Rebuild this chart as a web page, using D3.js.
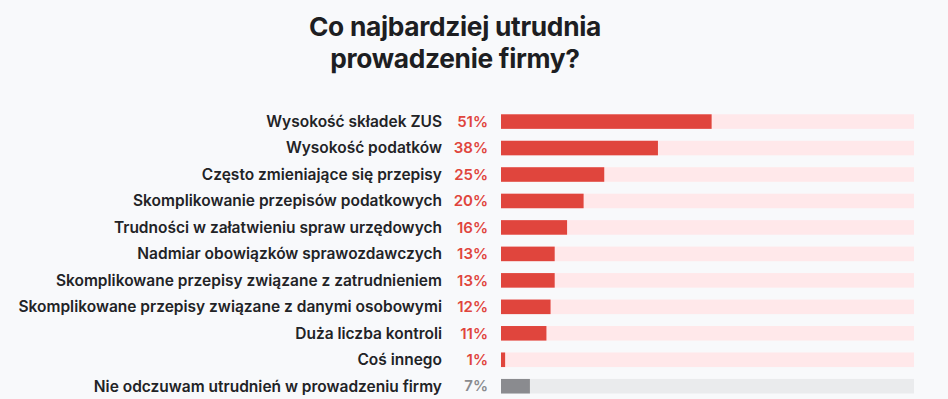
<!DOCTYPE html>
<html>
<head>
<meta charset="utf-8">
<script src="https://d3js.org/d3.v7.min.js"></script>
<style>
  html, body { margin: 0; padding: 0; background: #f8f9fb; }
  svg { display: block; font-family: Inter, "Noto Sans", sans-serif; }
</style>
</head>
<body>
<script>
// chart data
const categories = [
  "Wysokość składek ZUS",
  "Wysokość podatków",
  "Często zmieniające się przepisy",
  "Skomplikowanie przepisów podatkowych",
  "Trudności w załatwieniu spraw urzędowych",
  "Nadmiar obowiązków sprawozdawczych",
  "Skomplikowane przepisy związane z zatrudnieniem",
  "Skomplikowane przepisy związane z danymi osobowymi",
  "Duża liczba kontroli",
  "Coś innego",
  "Nie odczuwam utrudnień w prowadzeniu firmy"
]
const values = [51, 38, 25, 20, 16, 13, 13, 12, 11, 1, 7]
const titleLines = ["Co najbardziej utrudnia", "prowadzenie firmy?"]

const width = 948, height = 399

const svg = d3.select("body").append("svg")
  .attr("width", width)
  .attr("height", height)

svg.append("rect")
  .attr("width", width).attr("height", height)
  .attr("fill", "#f8f9fb")

// title
svg.append("text")
  .attr("x", 455)
  .attr("y", 36)
  .attr("text-anchor", "middle")
  .attr("font-size", 26.3)
  .attr("font-weight", 700)
  .attr("fill", "#1d1e22")
  .attr("letter-spacing", "-0.3")
  .selectAll("tspan")
  .data(titleLines)
  .join("tspan")
    .attr("x", 455)
    .attr("dy", (d, i) => i ? 32 : 0)
    .text(d => d)

const x = d3.scaleLinear().domain([0, 100]).range([501, 914])
const y = d3.scaleBand()
  .domain(categories)
  .range([109, 398.8])
  .paddingInner(0.45)
  .paddingOuter(0.2)

const isGray = d => d === categories[categories.length - 1]

const rows = svg.append("g")
  .selectAll("g")
  .data(categories)
  .join("g")

// background tracks
rows.append("rect")
  .attr("x", x(0))
  .attr("y", d => y(d))
  .attr("width", x(100) - x(0))
  .attr("height", y.bandwidth())
  .attr("fill", d => isGray(d) ? "#eaebed" : "#ffe8ea")

// value bars
rows.append("rect")
  .attr("x", x(0))
  .attr("y", d => y(d))
  .attr("width", (d, i) => x(values[i]) - x(0))
  .attr("height", y.bandwidth())
  .attr("fill", d => isGray(d) ? "#8a8b8f" : "#e0453d")

// category labels
rows.append("text")
  .attr("x", 442)
  .attr("y", d => y(d) + y.bandwidth() / 2)
  .attr("dy", "0.35em")
  .attr("text-anchor", "end")
  .attr("font-size", 15.5)
  .attr("font-weight", 600)
  .attr("fill", "#222326")
  .text(d => d)

// percentages
rows.append("text")
  .attr("x", 488)
  .attr("y", d => y(d) + y.bandwidth() / 2)
  .attr("dy", "0.35em")
  .attr("text-anchor", "end")
  .attr("font-size", 15)
  .attr("font-weight", 600)
  .attr("fill", d => isGray(d) ? "#8a8b8f" : "#e0453d")
  .text((d, i) => values[i] + "%")
</script>
</body>
</html>
